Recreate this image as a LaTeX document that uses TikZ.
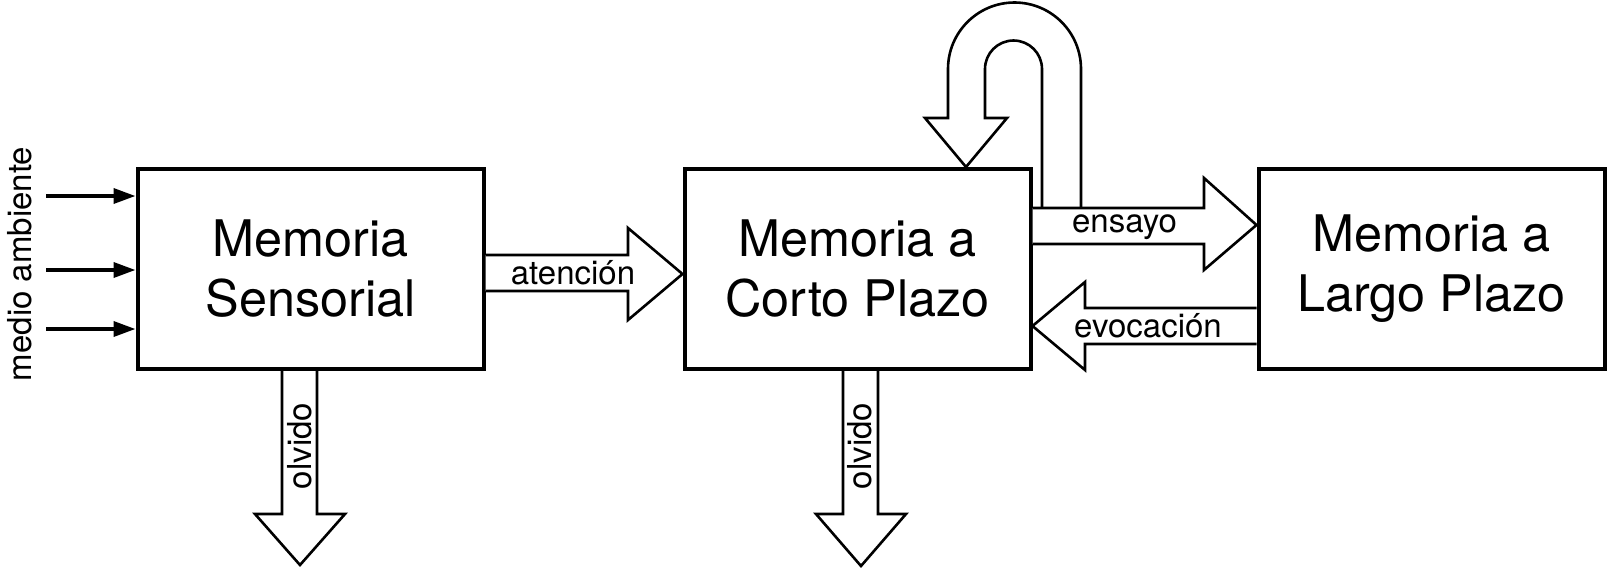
\documentclass[tikz,border=0pt]{standalone}
\usepackage{fontspec}
\setmainfont{TeX Gyre Heros}
\usetikzlibrary{calc, positioning, arrows.meta}

\begin{document}
\begin{tikzpicture}[
    x=0.5pt, y=-0.5pt,
    memory/.style = {
        draw=black,
        line width=2pt,
        minimum width=173pt,
        minimum height=100pt,
        align=center,
        font=\fontsize{25.2}{30}\selectfont,
    },
    tag/.style = {
        inner sep=0pt,
        anchor=base,
        font=\fontsize{16.5}{19}\selectfont,
    },
    blockarrow/.style = {
        draw=black,
        line width=1.3pt,
        fill=white,
    },
    input/.style = {
        -{Triangle[length=11pt, width=7.5pt]},
        line width=1.8pt,
    },
]
\useasboundingbox (0,0) rectangle (1608,569);
\node [memory] (sensory) at (310.5,269) {Memoria\\Sensorial};
\node [memory, right=98.5pt of sensory] (shortterm) {Memoria a\\Corto Plazo};
\node [memory, right=112pt of shortterm] (longterm) {Memoria a\\Largo Plazo};
\coordinate (in1) at (46,196);
\coordinate (in2) at (46,270);
\coordinate (in3) at (46,329);
\foreach \i in {1,2,3}
    \draw [input] (in\i) -- (sensory.west |- in\i);
\node [tag, rotate=90] (ambient) at (32,264) {medio ambiente};
\draw [blockarrow]
    (sensory.east |- 0,255) -- (628,255) -- (628,228)
    -- (shortterm.west |- 0,274)
    -- (628,320) -- (628,291) -- (sensory.east |- 0,291);
\node [tag] (attention) at (573,284) {atención};
\draw [blockarrow]
    (sensory.south -| 282,0) -- (282,514) -- (255,514)
    -- (300,565)
    -- (345,514) -- (317,514) -- (sensory.south -| 317,0);
\node [tag, rotate=90] (forget1) at (311,446) {olvido};
\draw [blockarrow]
    (shortterm.south -| 843,0) -- (843,514) -- (816,514)
    -- (861,566)
    -- (906,514) -- (878,514) -- (shortterm.south -| 878,0);
\node [tag, rotate=90] (forget2) at (871,446) {olvido};
\draw [blockarrow, fill=none]
    (1081,208) -- (1081,69) arc [start angle=0, end angle=-180, radius=66.5]
    -- (948,118) -- (925,118)
    -- (shortterm.north -| 966,0)
    -- (1007,118) -- (985,118) -- (985,69)
    arc [start angle=180, end angle=360, radius=28.5] -- (1042,208);
\draw [blockarrow]
    (shortterm.east |- 0,208) -- (1204,208) -- (1204,178)
    -- (longterm.west |- 0,225)
    -- (1204,270) -- (1204,244) -- (shortterm.east |- 0,244);
\node [tag] (rehearsal) at (1124.5,232) {ensayo};
\draw [blockarrow]
    (longterm.west |- 0,308) -- (1085,308) -- (1085,282)
    -- (shortterm.east |- 0,326)
    -- (1085,370) -- (1085,344) -- (longterm.west |- 0,344);
\node [tag] (recall) at (1148,337) {evocación};
\end{tikzpicture}
\end{document}
